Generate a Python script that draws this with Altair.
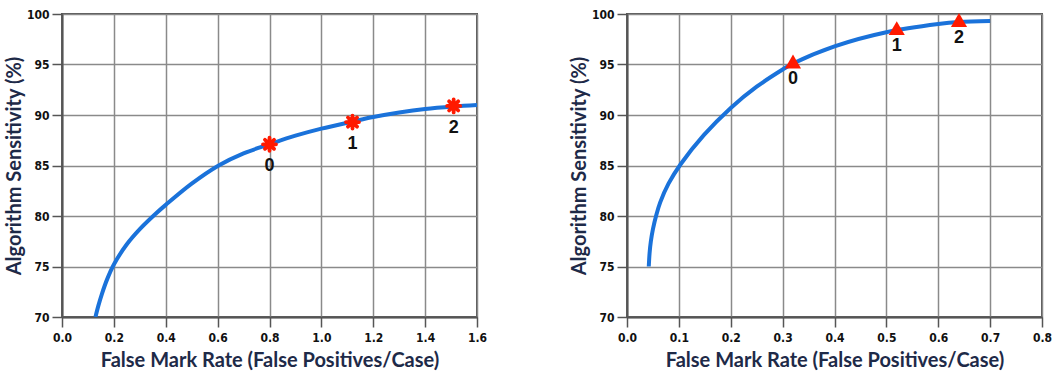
import altair as alt
import pandas as pd

# Curve A: false mark rate vs sensitivity, operating points drawn as asterisks
curve_a_x = [0.129, 0.14, 0.154, 0.175, 0.2, 0.25, 0.3, 0.36, 0.4, 0.5, 0.604, 0.7, 0.8, 0.9, 1.0, 1.12, 1.2, 1.3, 1.4, 1.51, 1.6]
curve_a_y = [70.0, 71.1, 72.3, 73.8, 75.2, 77.2, 78.7, 80.2, 81.1, 83.2, 85.0, 86.2, 87.1, 87.95, 88.65, 89.35, 89.8, 90.25, 90.6, 90.85, 91.0]
points_a_x = [0.80, 1.12, 1.51]
points_a_y = [87.1, 89.3, 90.9]
points_a_label = ["0", "1", "2"]

# Curve B: operating points drawn as triangles
curve_b_x = [0.042, 0.0435, 0.046, 0.05, 0.0565, 0.064, 0.08, 0.103, 0.148, 0.2, 0.25, 0.3, 0.32, 0.4, 0.5, 0.6, 0.64, 0.7]
curve_b_y = [75.0, 76.3, 77.5, 78.7, 80.1, 81.35, 83.2, 85.1, 88.0, 90.7, 92.8, 94.5, 95.1, 96.8, 98.2, 99.0, 99.2, 99.3]
points_b_x = [0.32, 0.52, 0.64]
points_b_y = [95.3, 98.6, 99.4]
points_b_label = ["0", "1", "2"]

X_TITLE = "False Mark Rate (False Positives/Case)"
Y_TITLE = "Algorithm Sensitivity (%)"
LINE_BLUE = "#1a72da"
MARK_RED = "#ff1a00"
TITLE_FONT = "Lato"
TICK_FONT = "DejaVu Sans Condensed"

# eight-armed asterisk drawn as stroked spokes
ASTERISK = "M-1,0L1,0M0,-1L0,1M-0.7,-0.7L0.7,0.7M-0.7,0.7L0.7,-0.7"

W, H = 415, 303


def axis_x(max_x, step):
    n = int(round(max_x / step))
    return alt.Axis(
        values=[round(i * step, 2) for i in range(n + 1)],
        format=".1f",
        title=X_TITLE,
        tickSize=10,
        labelPadding=5,
        labelFlush=False,
        titlePadding=7,
    )


def axis_y():
    return alt.Axis(
        values=[70, 75, 80, 85, 90, 95, 100],
        title=Y_TITLE,
        tickSize=10,
        labelPadding=3,
        labelFlush=False,
        titlePadding=2,
    )


def panel(cx, cy, px, py, plab, max_x, step, marker):
    curve = pd.DataFrame({"x": cx, "y": cy})
    pts = pd.DataFrame({"x": px, "y": py, "label": plab})
    xs = alt.Scale(domain=[0, max_x], nice=False)
    ys = alt.Scale(domain=[70, 100], nice=False)

    line = alt.Chart(curve).mark_line(
        color=LINE_BLUE, strokeWidth=4, interpolate="catmull-rom", clip=True
    ).encode(
        x=alt.X("x:Q", scale=xs, axis=axis_x(max_x, step)),
        y=alt.Y("y:Q", scale=ys, axis=axis_y()),
    )

    base = alt.Chart(pts).encode(x=alt.X("x:Q", scale=xs), y=alt.Y("y:Q", scale=ys))
    if marker == "asterisk":
        marks = [
            base.mark_point(shape=ASTERISK, filled=False, color=MARK_RED, size=170,
                            strokeWidth=3.8, strokeCap="round", opacity=1),
            base.mark_point(shape="circle", filled=True, color=MARK_RED, size=45, opacity=1),
        ]
        dy = 22
    else:
        marks = [
            base.mark_point(shape="triangle-up", filled=True, color=MARK_RED, size=260, opacity=1),
        ]
        dy = 18

    labels = base.mark_text(
        dy=dy, font="Liberation Sans", fontWeight="bold", fontSize=18, color="#111"
    ).encode(text="label:N")

    return alt.layer(line, *marks, labels).properties(width=W, height=H)


left = panel(curve_a_x, curve_a_y, points_a_x, points_a_y, points_a_label, 1.6, 0.2, "asterisk")
right = panel(curve_b_x, curve_b_y, points_b_x, points_b_y, points_b_label, 0.8, 0.1, "triangle")

chart = alt.hconcat(left, right, spacing=80).properties(
    padding={"left": 3, "top": 7, "right": 0, "bottom": 0},
    background="white",
).configure_view(
    stroke="#555", strokeWidth=2
).configure_axis(
    grid=True,
    gridColor="#8a8a8a",
    gridWidth=1.5,
    domainColor="#555",
    domainWidth=2,
    tickColor="#555",
    tickWidth=1.5,
    labelFont=TICK_FONT,
    labelFontWeight="bold",
    labelFontSize=12,
    labelColor="#111",
    titleFont=TITLE_FONT,
    titleFontWeight="bold",
    titleFontSize=20,
    titleColor="#1e2a48",
)

chart.save("out.html", embed_options={"renderer": "svg", "actions": False})
